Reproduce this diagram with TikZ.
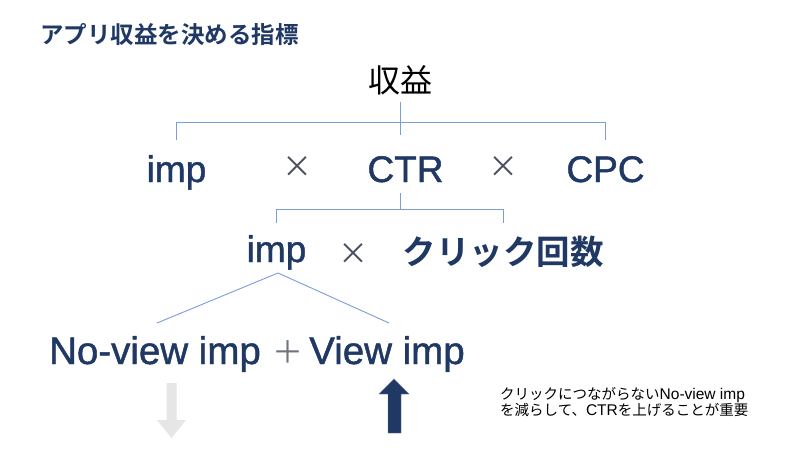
\documentclass[tikz,border=0pt]{standalone}
\usepackage{fontspec}
\setmainfont{Liberation Sans}
\newfontfamily\lat[FakeBold=1.2]{Liberation Sans}
\newfontfamily\jp{Noto Sans CJK JP}
\newfontfamily\jpb{Noto Sans CJK JP Bold}
\definecolor{navy}{HTML}{1F3864}
\definecolor{lineblue}{HTML}{7C9CDA}
\definecolor{opgray}{HTML}{4A5060}
\definecolor{arrowgray}{HTML}{E6E6E6}
\begin{document}
\begin{tikzpicture}[x=1pt,y=-1pt,
  lbl/.style={inner sep=0pt,outer sep=0pt,text=navy},
  big/.style={lbl,font=\lat\fontsize{37}{40}\selectfont},
  op/.style={inner sep=0pt,text=opgray,font=\jp\fontsize{30}{32}\selectfont},
  ln/.style={draw=lineblue,line width=0.9pt}]
\useasboundingbox[fill=white] (0,0) rectangle (800,450);

% title
\node[lbl,anchor=west,font=\jpb\fontsize{23.5}{25}\selectfont] (title) at (40,35) {アプリ収益を決める指標};
% top
\node[inner sep=0pt,font=\jp\fontsize{32}{34}\selectfont,text=black] (shu) at (400,80) {収益};

% row 2
\node[big,anchor=base] (imp1) at (176.5,182) {imp};
\node[op] (x1) at (297,167) {×};
\node[big,anchor=base] (ctr) at (405.5,182) {CTR};
\node[op] (x2) at (503,167) {×};
\node[big,anchor=base] (cpc) at (605.5,182) {CPC};

% row 3
\node[big,anchor=base] (imp2) at (276.5,262) {imp};
\node[op] (x3) at (353,254) {×};
\node[lbl,font=\jpb\fontsize{33.5}{36}\selectfont] (click) at (503,252) {クリック回数};

% row 4
\node[big,anchor=base,font=\lat\fontsize{38.5}{40}\selectfont] (nov) at (155,364) {No-view imp};
\node[op,text=opgray!80!white,font=\jp\fontsize{31}{32}\selectfont] (plus) at (287.5,352) {＋};
\node[big,anchor=base,font=\lat\fontsize{38.5}{40}\selectfont] (view) at (387,364) {View imp};

% note
\node[inner sep=0pt,anchor=north west,align=left,text=black,font=\jp\fontsize{14.5}{16}\selectfont] (note) at (500,387)
 {クリックにつながらない{\rmfamily\fontsize{15.5}{15.5}\selectfont No-view imp}\\を減らして、{\rmfamily\fontsize{15.5}{15.5}\selectfont CTR}を上げることが重要};

% connectors
\coordinate (t1) at (400,102);
\coordinate (t1b) at (400,135);
\coordinate (h1) at (400,122);
\coordinate (e1) at (400,140);
\draw[ln] (t1) -- (t1b);
\draw[ln] (imp1 |- e1) -- (imp1 |- h1) -- (cpc |- h1) -- (cpc |- e1);

\coordinate (t2) at (400,193);
\coordinate (h2) at (400,209);
\coordinate (e2) at (400,223);
\draw[ln] (t2) -- (h2);
\draw[ln] (imp2 |- e2) -- (imp2 |- h2) -- (click |- h2) -- (click |- e2);

\coordinate (apex) at (278,273);
\coordinate (lb) at (157,323);
\coordinate (rb) at (389,323);
\draw[ln] (lb) -- (apex) -- (rb);

% arrows
\fill[arrowgray] (166.5,383) -- (176.5,383) -- (176.5,420) -- (186,420) -- (171.5,438) -- (157,420) -- (166.5,420) -- cycle;
\filldraw[fill=navy,draw=navy!70!white,line width=0.4pt] (394,379) -- (409,394) -- (401,394) -- (401,433) -- (388,433) -- (388,394) -- (379,394) -- cycle;
\end{tikzpicture}
\end{document}
